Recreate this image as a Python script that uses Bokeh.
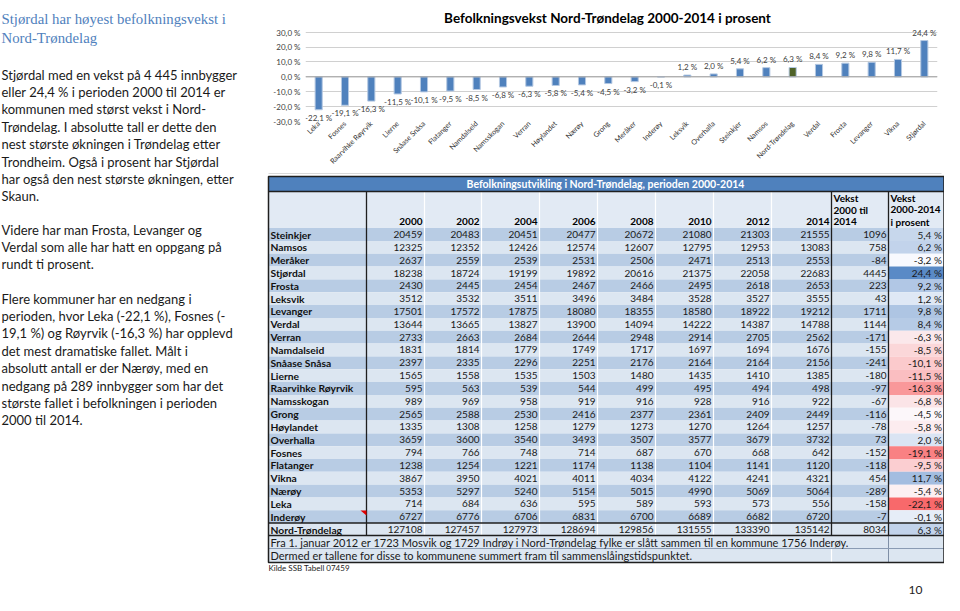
import math
import numpy as np
from bokeh.plotting import figure
from bokeh.models import Range1d, FactorRange, FixedTicker, Span, ColumnDataSource
from bokeh.layouts import row, column
from bokeh.embed import file_html
from bokeh.resources import INLINE
from bokeh.core.properties import value

SANS = "Lato"
SERIF = "Liberation Serif"

# ---------------- chart data ----------------
chart_categories = ["Leka", "Fosnes", "Raarvihke Røyrvik", "Lierne", "Snåase Snåsa", "Flatanger",
                    "Namdalseid", "Namsskogan", "Verran", "Høylandet", "Nærøy", "Grong", "Meråker",
                    "Inderøy", "Leksvik", "Overhalla", "Steinkjer", "Namsos", "Nord-Trøndelag",
                    "Verdal", "Frosta", "Levanger", "Vikna", "Stjørdal"]
chart_values = [-22.1, -19.1, -16.3, -11.5, -10.1, -9.5, -8.5, -6.8, -6.3, -5.8, -5.4, -4.5,
                -3.2, -0.1, 1.2, 2.0, 5.4, 6.2, 6.3, 8.4, 9.2, 9.8, 11.7, 24.4]
y_ticks = [-30, -20, -10, 0, 10, 20, 30]
y_tick_labels = ["-30,0 %", "-20,0 %", "-10,0 %", "0,0 %", "10,0 %", "20,0 %", "30,0 %"]
chart_title = "Befolkningsvekst Nord-Trøndelag 2000-2014 i prosent"

# ---------------- table data ----------------
table_title = "Befolkningsutvikling i Nord-Trøndelag, perioden 2000-2014"
table_years = ["2000", "2002", "2004", "2006", "2008", "2010", "2012", "2014"]
municipalities = ["Steinkjer", "Namsos", "Meråker", "Stjørdal", "Frosta", "Leksvik", "Levanger",
                  "Verdal", "Verran", "Namdalseid", "Snåase Snåsa", "Lierne", "Raarvihke Røyrvik",
                  "Namsskogan", "Grong", "Høylandet", "Overhalla", "Fosnes", "Flatanger", "Vikna",
                  "Nærøy", "Leka", "Inderøy", "Nord-Trøndelag"]
pop_2000 = [20459, 12325, 2637, 18238, 2430, 3512, 17501, 13644, 2733, 1831, 2397, 1565, 595,
            989, 2565, 1335, 3659, 794, 1238, 3867, 5353, 714, 6727, 127108]
pop_2002 = [20483, 12352, 2559, 18724, 2445, 3532, 17572, 13665, 2663, 1814, 2335, 1558, 563,
            969, 2588, 1308, 3600, 766, 1254, 3950, 5297, 684, 6776, 127457]
pop_2004 = [20451, 12426, 2539, 19199, 2454, 3511, 17875, 13827, 2684, 1779, 2296, 1535, 539,
            958, 2530, 1258, 3540, 748, 1221, 4021, 5240, 636, 6706, 127973]
pop_2006 = [20477, 12574, 2531, 19892, 2467, 3496, 18080, 13900, 2644, 1749, 2251, 1503, 544,
            919, 2416, 1279, 3493, 714, 1174, 4011, 5154, 595, 6831, 128694]
pop_2008 = [20672, 12607, 2506, 20616, 2466, 3484, 18355, 14094, 2948, 1717, 2176, 1480, 499,
            916, 2377, 1273, 3507, 687, 1138, 4034, 5015, 589, 6700, 129856]
pop_2010 = [21080, 12795, 2471, 21375, 2495, 3528, 18580, 14222, 2914, 1697, 2164, 1435, 495,
            928, 2361, 1270, 3577, 670, 1104, 4122, 4990, 593, 6689, 131555]
pop_2012 = [21303, 12953, 2513, 22058, 2618, 3527, 18922, 14387, 2705, 1694, 2164, 1410, 494,
            916, 2409, 1264, 3679, 668, 1141, 4241, 5069, 573, 6682, 133390]
pop_2014 = [21555, 13083, 2553, 22683, 2653, 3555, 19212, 14788, 2562, 1676, 2156, 1385, 498,
            922, 2449, 1257, 3732, 642, 1120, 4321, 5064, 556, 6720, 135142]
growth_abs = [1096, 758, -84, 4445, 223, 43, 1711, 1144, -171, -155, -241, -180, -97, -67, -116,
              -78, 73, -152, -118, 454, -289, -158, -7, 8034]
growth_pct = [5.4, 6.2, -3.2, 24.4, 9.2, 1.2, 9.8, 8.4, -6.3, -8.5, -10.1, -11.5, -16.3, -6.8,
              -4.5, -5.8, 2.0, -19.1, -9.5, 11.7, -5.4, -22.1, -0.1, 6.3]
footnotes = ["Fra 1. januar 2012 er 1723 Mosvik og 1729 Indrøy i Nord-Trøndelag fylke er slått sammen til en kommune 1756 Inderøy.",
             "Dermed er tallene for disse to kommunene summert fram til sammenslåingstidspunktet."]
source_note = "Kilde SSB Tabell 07459"
page_number = "10"

# ---------------- left text ----------------
heading_lines = ["Stjørdal har høyest befolkningsvekst i", "Nord-Trøndelag"]
paragraphs = [
    ["Stjørdal med en vekst på 4 445 innbygger",
     "eller 24,4 % i perioden 2000 til 2014 er",
     "kommunen med størst vekst i Nord-",
     "Trøndelag. I absolutte tall er dette den",
     "nest største økningen i Trøndelag etter",
     "Trondheim. Også i prosent har Stjørdal",
     "har også den nest største økningen, etter",
     "Skaun."],
    ["Videre har man Frosta, Levanger og",
     "Verdal som alle har hatt en oppgang på",
     "rundt ti prosent."],
    ["Flere kommuner har en nedgang i",
     "perioden, hvor Leka (-22,1 %), Fosnes (-",
     "19,1 %) og Røyrvik (-16,3 %) har opplevd",
     "det mest dramatiske fallet.  Målt i",
     "absolutt antall er der Nærøy, med en",
     "nedgang på 289 innbygger som har det",
     "største fallet i befolkningen i perioden",
     "2000 til 2014."],
]

# ---------------- page geometry ----------------
W, H = 944, 595
SPLIT = 171          # y where the lower full-width figure starts
LW = 263             # width of upper-left text figure
SH = 9               # horizontal shift of the right-hand block
TITLE_H = 27
CB_L, CB_R = 42, 7   # chart frame borders


def text_fig(w, h, x0=0, x1=None, y0=0, y1=None, **kw):
    f = figure(width=w, height=h,
               x_range=Range1d(x0, x1 if x1 is not None else w),
               y_range=Range1d(y1 if y1 is not None else h, y0),
               output_backend="svg", toolbar_location=None,
               x_axis_type=None, y_axis_type=None, **kw)
    f.outline_line_color = None
    f.grid.visible = False
    f.background_fill_color = "white"
    f.border_fill_color = "white"
    return f


def fmt_pct(v):
    return f"{v:.1f}".replace(".", ",") + " %"


left_lines = []
for start, lines in zip([74, 229, 298], paragraphs):
    for k, ln in enumerate(lines):
        left_lines.append((start + 17.4 * k, ln))

# ---------- upper-left text ----------
lf = text_fig(LW, SPLIT, min_border=0)
lf.text(x=[1, 1], y=[18, 37], text=heading_lines, text_font=value(SERIF),
        text_font_size="14.8px", text_color="#4F81BD", text_baseline="middle")
up = [(y, t) for y, t in left_lines if y < SPLIT - 6]
lf.text(x=[1] * len(up), y=[y for y, _ in up], text=[t for _, t in up], text_font=value(SANS),
        text_font_size="13px", text_color="#1a1a1a", text_baseline="middle")

# ---------- chart title strip (same frame borders as chart) ----------
RW = W - LW
fx0, fx1 = LW + CB_L, W - CB_R
tf = text_fig(RW, TITLE_H, x0=fx0, x1=fx1, min_border_left=CB_L, min_border_right=CB_R,
              min_border_top=0, min_border_bottom=0)
tf.text(x=[616 - SH], y=[17], text=[chart_title], text_font=value(SANS),
        text_font_size="13.5px", text_font_style="bold", text_color="#000000",
        text_align="center", text_baseline="middle")

# ---------- bar chart ----------
cp = figure(width=RW, height=SPLIT - TITLE_H, x_range=FactorRange(factors=chart_categories),
            y_range=Range1d(-30, 32.5), output_backend="svg", toolbar_location=None,
            min_border_left=CB_L, min_border_right=CB_R, min_border_top=1, min_border_bottom=44)
cp.outline_line_color = None
cp.background_fill_color = "white"
cp.border_fill_color = "white"
cp.xgrid.visible = False
cp.ygrid.ticker = FixedTicker(ticks=y_ticks)
cp.ygrid.grid_line_color = "#D0D0D0"
cp.yaxis.ticker = FixedTicker(ticks=y_ticks)
cp.yaxis.major_label_overrides = {t: l for t, l in zip(y_ticks, y_tick_labels)}
cp.yaxis.axis_line_color = None
cp.yaxis.major_tick_line_color = None
cp.yaxis.minor_tick_line_color = None
cp.yaxis.major_tick_out = 0
cp.yaxis.major_tick_in = 0
cp.yaxis.major_label_text_font = SANS
cp.yaxis.major_label_text_font_size = "8px"
cp.yaxis.major_label_text_color = "#404040"
cp.yaxis.major_label_standoff = 5
cp.xaxis.axis_line_color = None
cp.xaxis.major_tick_line_color = None
cp.xaxis.major_tick_out = 0
cp.xaxis.major_tick_in = 0
cp.xaxis.major_label_orientation = math.pi / 4
cp.xaxis.major_label_text_font = SANS
cp.xaxis.major_label_text_font_size = "7.2px"
cp.xaxis.major_label_text_color = "#303030"
cp.xaxis.major_label_standoff = 1
cp.add_layout(Span(location=0, dimension="width", line_color="#A0A0A0", line_width=1))

bar_colors = ["#4F6228" if c == "Nord-Trøndelag" else "#4F81BD" for c in chart_categories]
csrc = ColumnDataSource(dict(cat=chart_categories, val=chart_values, color=bar_colors))
cp.vbar(x="cat", top="val", bottom=0, width=0.27, fill_color="color",
        line_color="#B4C8E2", line_width=1, source=csrc)
neg = [i for i, v in enumerate(chart_values) if v < 0]
pos = [i for i, v in enumerate(chart_values) if v >= 0]
cp.text(x=[chart_categories[i] for i in neg], y=[chart_values[i] for i in neg],
        text=[fmt_pct(chart_values[i]) for i in neg], text_font=value(SANS),
        text_font_size="8px", text_color="#404040", text_align="center",
        text_baseline="top", y_offset=3)
cp.text(x=[chart_categories[i] for i in pos], y=[chart_values[i] for i in pos],
        text=[fmt_pct(chart_values[i]) for i in pos], text_font=value(SANS),
        text_font_size="8px", text_color="#404040", text_align="center",
        text_baseline="bottom", y_offset=-3)

# ---------- lower full-width figure: rest of left text + table ----------
bf = text_fig(W, H - SPLIT, y0=SPLIT, y1=H, min_border=0)
low = [(y, t) for y, t in left_lines if y >= SPLIT - 6]
bf.text(x=[1] * len(low), y=[y for y, _ in low], text=[t for _, t in low], text_font=value(SANS),
        text_font_size="13px", text_color="#1a1a1a", text_baseline="middle")


def X(v):
    return v - SH


# light chart-box bottom edge
bf.segment(x0=[X(277)], y0=[173], x1=[X(950)], y1=[173], line_color="#D9D9D9", line_width=1)

edges = [277, 375, 433, 490, 548, 606, 664, 722, 780, 840, 897, 952.5]
R0, RH = 227.6, 12.83
n = len(municipalities)
DARK_ROW, LIGHT_ROW = "#B8CCE4", "#DCE6F1"
TL, TR = X(edges[0]), X(edges[-1])

# band title
bf.quad(left=[TL], right=[TR], top=[176], bottom=[191], fill_color="#4F81BD", line_color=None)
bf.text(x=[X(614)], y=[183.5], text=[table_title], text_font=value(SANS),
        text_font_size="10.5px", text_font_style="bold", text_color="white",
        text_align="center", text_baseline="middle")
bf.quad(left=[TL], right=[TR], top=[191], bottom=[R0], fill_color="#E2EAF4", line_color=None)

# pct colour scale (3-colour, like the spreadsheet)
lo, hi = min(growth_pct), max(growth_pct)
mid = float(np.percentile(growth_pct, 50))


def hex2rgb(h):
    return tuple(int(h[i:i + 2], 16) for i in (1, 3, 5))


def mix(c1, c2, t):
    a, b = hex2rgb(c1), hex2rgb(c2)
    return "#%02x%02x%02x" % tuple(round(x + (y - x) * t) for x, y in zip(a, b))


def pct_color(v):
    if v <= mid:
        return mix("#FCFCFF", "#F8696B", (mid - v) / (mid - lo))
    return mix("#FCFCFF", "#5A8AC6", (v - mid) / (hi - mid))


L, Rr, T, B, C = [], [], [], [], []
for i in range(n):
    top = R0 + RH * i
    bot = top + RH
    base = DARK_ROW if i % 2 == 0 else LIGHT_ROW
    L += [TL, X(897)]; Rr += [X(897), TR]; T += [top, top]; B += [bot, bot]
    C += [base, pct_color(growth_pct[i])]
bf.quad(left=L, right=Rr, top=T, bottom=B, fill_color=C, line_color=None)

# footnote rows bg
bf.quad(left=[TL, TL], right=[TR, TR], top=[535, 548], bottom=[548, 562],
        fill_color=["#DCE6F1", "#DCE6F1"], line_color=None)

# white vertical separators
wx = [X(e) for e in edges[2:9]]
bf.segment(x0=wx, y0=[191] * len(wx), x1=wx, y1=[535] * len(wx), line_color="white", line_width=1.2)
bf.segment(x0=[X(840)], y0=[548], x1=[X(840)], y1=[562], line_color="white", line_width=1.2)

# dark lines
dk = "#1F1F1F"
vx = [X(375), X(840), X(897)]
bf.segment(x0=vx, y0=[191] * 3, x1=vx, y1=[535] * 3, line_color=dk, line_width=1.3)
bf.segment(x0=[X(897)], y0=[535], x1=[X(897)], y1=[562], line_color="#7F8FA6", line_width=1)
bf.segment(x0=[TL] * 3, y0=[191, 522.5, 535], x1=[TR] * 3, y1=[191, 522.5, 535],
           line_color=dk, line_width=1.3)
bf.segment(x0=[TL], y0=[548], x1=[TR], y1=[548], line_color="#8A9BB3", line_width=1)
bf.quad(left=[TL], right=[TR], top=[176], bottom=[562], fill_color=None, line_color=dk,
        line_width=1.5)

# comment marker
bf.patch(x=[X(369), X(375), X(375)], y=[510, 510, 515], fill_color="#E00000", line_color=None)

# header labels
bf.text(x=[X(e) - 2 for e in edges[2:10]], y=[221] * 8, text=table_years, text_font=value(SANS),
        text_font_size="10px", text_font_style="bold", text_color="#000000",
        text_align="right", text_baseline="middle")
bf.text(x=[X(842)] * 3 + [X(899)] * 3, y=[197, 209, 221, 197, 209, 221],
        text=["Vekst", "2000 til", "2014", "Vekst", "2000-2014", "i prosent"],
        text_font=value(SANS), text_font_size="10px", text_font_style="bold",
        text_color="#000000", text_align="left", text_baseline="middle")

# body
row_y = [R0 + RH * i + RH / 2 for i in range(n)]
bf.text(x=[X(279)] * n, y=row_y, text=municipalities, text_font=value(SANS),
        text_font_size="10.3px", text_font_style="bold", text_color="#111111",
        text_align="left", text_baseline="middle")
cols = [pop_2000, pop_2002, pop_2004, pop_2006, pop_2008, pop_2010, pop_2012, pop_2014, growth_abs]
for j, colvals in enumerate(cols):
    bf.text(x=[X(edges[j + 2]) - 2] * n, y=row_y, text=[str(v) for v in colvals],
            text_font=value(SANS), text_font_size="10px", text_color="#1a1a1a",
            text_align="right", text_baseline="middle")
bf.text(x=[TR - 2] * n, y=row_y, text=[fmt_pct(v) for v in growth_pct],
        text_font=value(SANS), text_font_size="10px", text_color="#1a1a1a",
        text_align="right", text_baseline="middle")

# footnotes, source, page number
bf.text(x=[X(279)] * 2, y=[541.5, 554.5], text=footnotes, text_font=value(SANS),
        text_font_size="11px", text_color="#1a1a1a", text_align="left", text_baseline="middle")
bf.text(x=[X(277)], y=[567.5], text=[source_note], text_font=value(SANS),
        text_font_size="8px", text_color="#222222", text_align="left", text_baseline="middle")
bf.text(x=[X(924)], y=[589], text=[page_number], text_font=value(SANS),
        text_font_size="12px", text_color="#222222", text_align="center", text_baseline="middle")

layout = column(row(lf, column(tf, cp, spacing=0), spacing=0), bf, spacing=0)
open("out.html", "w").write(file_html(layout, INLINE))
